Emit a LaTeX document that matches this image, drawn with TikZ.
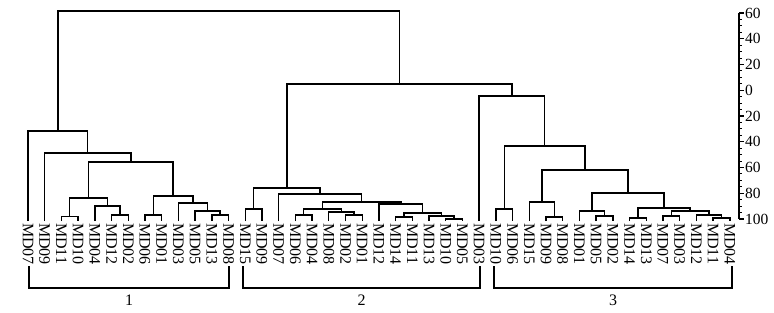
\documentclass[tikz,border=0pt]{standalone}
\usepackage{fontspec}
\setmainfont{Liberation Serif}
\usetikzlibrary{calc}
\newcommand\mrg[4]{%
  \path let \p1=($(#2)!0.5!(#3)$) in coordinate (#1) at (\x1,-#4pt);
  \draw[link] (#2) |- (#1) -| (#3);}
\begin{document}
\begin{tikzpicture}[x=1pt,y=1pt,
  link/.style={line width=1.4pt},
  leaf/.style={font=\fontsize{16}{16}\selectfont, inner sep=0pt, rotate=-90, anchor=west},
  grp/.style={font=\fontsize{16}{16}\selectfont, inner sep=0pt},
  axlab/.style={font=\fontsize{15.5}{16}\selectfont, inner sep=0pt, anchor=west}]
\useasboundingbox (0,0) rectangle (774,-313);
% leaves
\foreach \n [count=\i from 0] in {MD07,MD09,MD11,MD10,MD04,MD12,MD02,MD06,MD01,MD03,MD05,MD13,MD08,
  MD15,MD09,MD07,MD06,MD04,MD08,MD02,MD01,MD12,MD14,MD11,MD13,MD10,MD05,MD03,
  MD10,MD06,MD15,MD09,MD08,MD01,MD05,MD02,MD14,MD13,MD07,MD03,MD12,MD11,MD04}{
  \coordinate (L\i) at ({28+16.71*\i},-221);
  \node[leaf] (t\i) at ({28+16.71*\i},-223) {\n};
}
% group 1
\mrg{a1}{L2}{L3}{216.5}
\mrg{a2}{L5}{L6}{215}
\mrg{a3}{L4}{a2}{206}
\mrg{a4}{a1}{a3}{198}
\mrg{a5}{L7}{L8}{215}
\mrg{a6}{L11}{L12}{215}
\mrg{a7}{L10}{a6}{211}
\mrg{a8}{L9}{a7}{203}
\mrg{a9}{a5}{a8}{196}
\mrg{a10}{a4}{a9}{162}
\mrg{a11}{L1}{a10}{153}
\mrg{a12}{L0}{a11}{131}
% group 2
\mrg{b1}{L13}{L14}{209}
\mrg{b2}{L16}{L17}{215}
\mrg{b3}{L19}{L20}{215}
\mrg{b4}{L18}{b3}{212}
\mrg{b5}{b2}{b4}{209}
\mrg{b6}{L22}{L23}{217}
\mrg{b7}{L25}{L26}{219}
\mrg{b8}{L24}{b7}{216}
\mrg{b9}{b6}{b8}{213}
\mrg{b10}{L21}{b9}{204}
\mrg{b11}{b5}{b10}{202}
\mrg{b12}{L15}{b11}{194}
\mrg{b13}{b1}{b12}{188}
% group 3
\mrg{c1}{L28}{L29}{209}
\mrg{c2}{L31}{L32}{217}
\mrg{c3}{L30}{c2}{202}
\mrg{c4}{L34}{L35}{216}
\mrg{c5}{L33}{c4}{211}
\mrg{c6}{L36}{L37}{218}
\mrg{c7}{L38}{L39}{216}
\mrg{c8}{L41}{L42}{218}
\mrg{c9}{L40}{c8}{215}
\mrg{c10}{c7}{c9}{211}
\mrg{c11}{c6}{c10}{208}
\mrg{c12}{c5}{c11}{193}
\mrg{c13}{c3}{c12}{170}
\mrg{c14}{c1}{c13}{146}
\mrg{c15}{L27}{c14}{96}
\mrg{r1}{b13}{c15}{84}
\mrg{root}{a12}{r1}{11}
% group brackets
\coordinate (g1a) at (29,-266); \coordinate (g1b) at (229,-266);
\coordinate (g2a) at (243,-266); \coordinate (g2b) at (480,-266);
\coordinate (g3a) at (494,-266); \coordinate (g3b) at (732,-266);
\draw[link] (g1a) |- (229,-288) -- (g1b);
\draw[link] (g2a) |- (480,-288) -- (g2b);
\draw[link] (g3a) |- (732,-288) -- (g3b);
\node[grp] (n1) at (129,-300) {1};
\node[grp] (n2) at (361.5,-300) {2};
\node[grp] (n3) at (613,-300) {3};
% axis
\coordinate (ax0) at (739,-13); \coordinate (ax1) at (739,-219);
\draw[line width=1.2pt] (ax0) -- (ax1);
\foreach \k in {0,...,31}{
  \draw[line width=1pt] (739,{-13-6.4375*\k}) -- ++(3,0);
}
\foreach \v [count=\k from 0] in {60,40,20,0,20,40,60,80,100}{
  \draw[line width=1.2pt] (739,{-13-25.75*\k}) -- ++(5,0);
  \node[axlab] (y\k) at (745,{-13-25.75*\k}) {\v};
}
\end{tikzpicture}
\end{document}
